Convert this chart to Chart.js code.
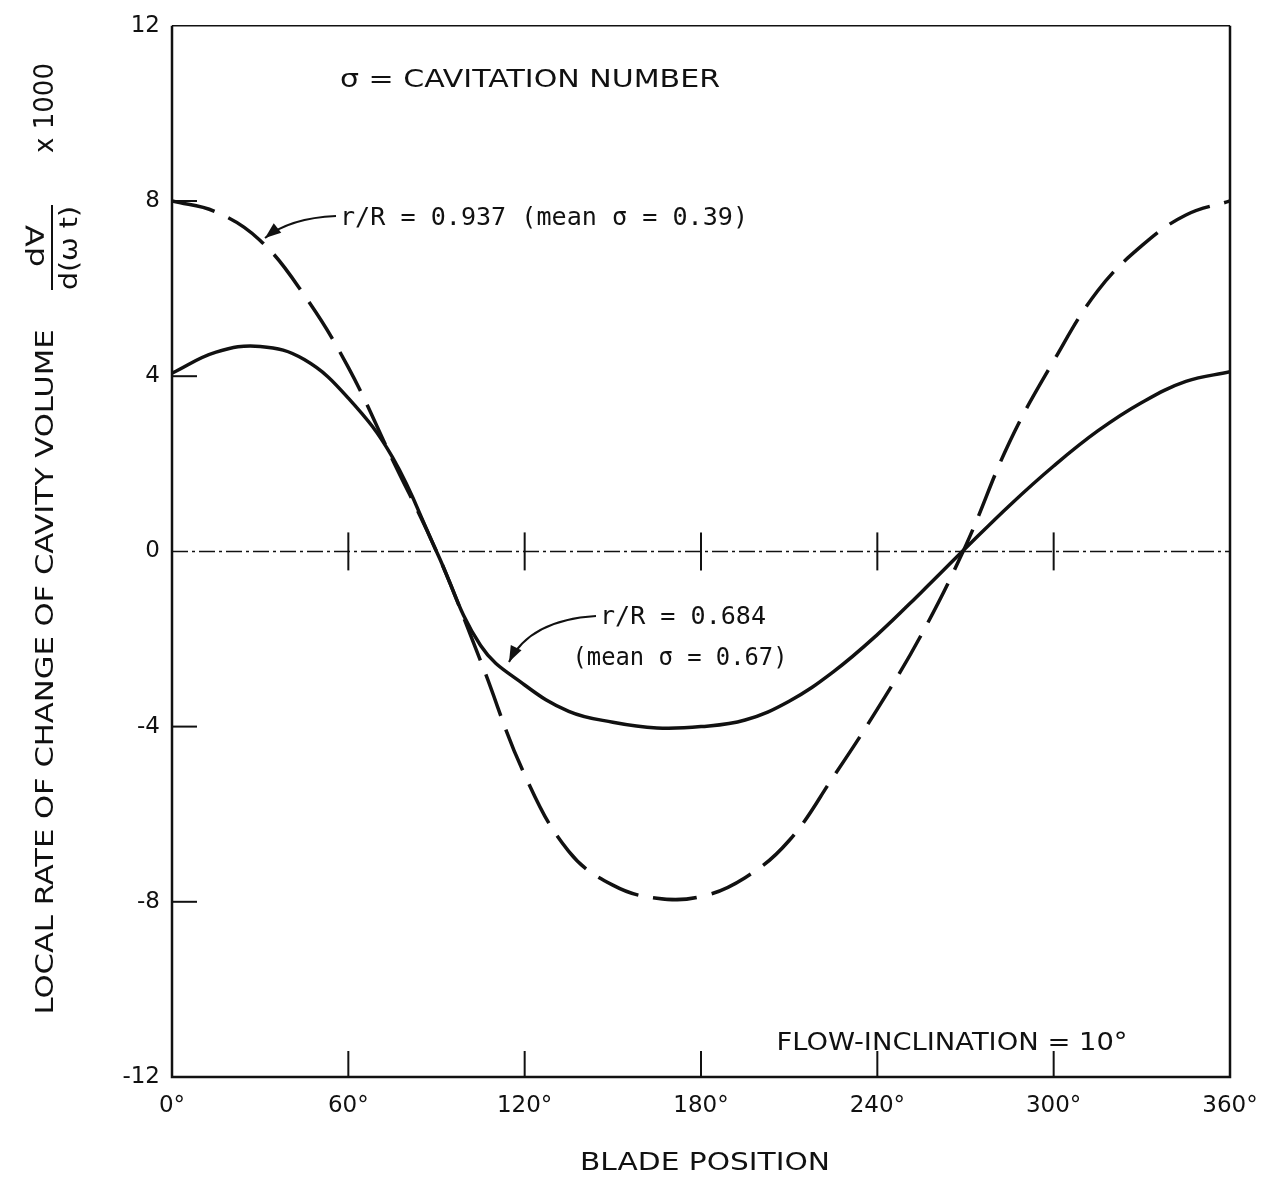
<!DOCTYPE html>
<html>
<head>
<meta charset="utf-8">
<script src="https://cdn.jsdelivr.net/npm/chart.js@4.4.1/dist/chart.umd.min.js"></script>
<style>
  html, body { margin: 0; padding: 0; background: #fff; }
  #wrap { width: 1276px; height: 1179px; }
</style>
</head>
<body>
<div id="wrap"><canvas id="grafico" width="1276" height="1179"></canvas></div>
<script>
// blade position (deg) and dV/d(wt) x 1000
const angulos = [0, 15, 30, 45, 60, 75, 90, 105, 120, 135, 150, 165, 180, 195, 210, 225, 240, 255, 270, 285, 300, 315, 330, 345, 360];
const dashedVal = [8.0, 7.75, 7.1, 5.85, 4.2, 2.1, 0, -2.5, -5.1, -6.85, -7.62, -7.92, -7.88, -7.45, -6.6, -5.15, -3.6, -1.9, 0.12, 2.5, 4.35, 5.95, 6.98, 7.68, 8.0];
const solidVal = [4.07, 4.55, 4.68, 4.38, 3.5, 2.15, 0, -2.15, -3.05, -3.65, -3.9, -4.03, -4.0, -3.85, -3.42, -2.75, -1.9, -0.93, 0.07, 1.05, 1.95, 2.75, 3.4, 3.88, 4.1];

const xTicks = [0, 60, 120, 180, 240, 300, 360];
const yTicks = [-12, -8, -4, 0, 4, 8, 12];

const INK = "#111";
const SANS = "'DejaVu Sans', 'Liberation Sans', sans-serif";
const MONO = "'DejaVu Sans Mono', 'Liberation Mono', monospace";

function puntos(xs, ys) {
    return xs.map((x, i) => ({ x: x, y: ys[i] }));
}

// texto ajustado a un ancho dado
function textoAjustado(ctx, txt, cx, cy, ancho, font, girar) {
    ctx.save();
    ctx.font = font;
    ctx.fillStyle = INK;
    ctx.translate(cx, cy);
    if (girar) ctx.rotate(-Math.PI / 2);
    const w = ctx.measureText(txt).width;
    ctx.scale(ancho / w, 1);
    ctx.textAlign = "center";
    ctx.textBaseline = "middle";
    ctx.fillText(txt, 0, 0);
    ctx.restore();
}

function flecha(ctx, x0, y0, cx, cy, x1, y1) {
    ctx.save();
    ctx.strokeStyle = INK;
    ctx.fillStyle = INK;
    ctx.lineWidth = 2;
    ctx.beginPath();
    ctx.moveTo(x0, y0);
    ctx.quadraticCurveTo(cx, cy, x1, y1);
    ctx.stroke();
    const a = Math.atan2(y1 - cy, x1 - cx);
    const L = 16, W = 6;
    ctx.beginPath();
    ctx.moveTo(x1, y1);
    ctx.lineTo(x1 - L * Math.cos(a) + W * Math.sin(a), y1 - L * Math.sin(a) - W * Math.cos(a));
    ctx.lineTo(x1 - L * Math.cos(a) - W * Math.sin(a), y1 - L * Math.sin(a) + W * Math.cos(a));
    ctx.closePath();
    ctx.fill();
    ctx.restore();
}

const marco = {
    id: "marco",
    beforeDatasetsDraw(chart) {
        const ctx = chart.ctx;
        const xs = chart.scales.x, ys = chart.scales.y;
        const L = xs.getPixelForValue(0), R = xs.getPixelForValue(360);
        const T = ys.getPixelForValue(12), B = ys.getPixelForValue(-12);
        const y0 = ys.getPixelForValue(0);
        ctx.save();
        ctx.strokeStyle = INK;

        // linea de cero
        ctx.lineWidth = 1.5;
        ctx.setLineDash([16, 4, 3, 4]);
        ctx.beginPath();
        ctx.moveTo(L, y0);
        ctx.lineTo(R, y0);
        ctx.stroke();
        ctx.setLineDash([]);

        // marco
        ctx.lineWidth = 1.5;
        ctx.beginPath();
        ctx.moveTo(L, T); ctx.lineTo(R, T);
        ctx.stroke();
        ctx.lineWidth = 2.5;
        ctx.beginPath();
        ctx.moveTo(R, T); ctx.lineTo(R, B); ctx.lineTo(L, B); ctx.lineTo(L, T);
        ctx.stroke();

        // marcas hacia dentro
        ctx.lineWidth = 2;
        yTicks.forEach(v => {
            if (v === 12 || v === -12 || v === 0) return;
            const py = ys.getPixelForValue(v);
            ctx.beginPath(); ctx.moveTo(L, py); ctx.lineTo(L + 25, py); ctx.stroke();
        });
        xTicks.forEach(v => {
            if (v === 0 || v === 360) return;
            const px = xs.getPixelForValue(v);
            ctx.beginPath(); ctx.moveTo(px, B); ctx.lineTo(px, B - 26); ctx.stroke();
            ctx.beginPath(); ctx.moveTo(px, y0 - 19); ctx.lineTo(px, y0 + 19); ctx.stroke();
        });
        ctx.restore();
    },
    afterDraw(chart) {
        const ctx = chart.ctx;
        // titulo eje y
        textoAjustado(ctx, "LOCAL RATE OF CHANGE OF CAVITY VOLUME", 46, 672, 685, "25px " + SANS, true);
        textoAjustado(ctx, "d\u2200", 37, 246, 42, "25px " + SANS, true);
        textoAjustado(ctx, "d(\u03c9 t)", 70, 248, 84, "25px " + SANS, true);
        ctx.save();
        ctx.strokeStyle = INK;
        ctx.lineWidth = 2;
        ctx.beginPath(); ctx.moveTo(52, 205); ctx.lineTo(52, 290); ctx.stroke();
        ctx.restore();
        textoAjustado(ctx, "x 1000", 46, 108, 90, "26px " + SANS, true);

        // titulo eje x
        textoAjustado(ctx, "BLADE POSITION", 705, 1163, 250, "25px " + SANS, false);

        // anotaciones
        textoAjustado(ctx, "\u03c3 = CAVITATION NUMBER", 530, 80, 380, "25px " + SANS, false);
        textoAjustado(ctx, "r/R = 0.937 (mean \u03c3 = 0.39)", 544, 218, 408, "25px " + MONO, false);
        textoAjustado(ctx, "r/R = 0.684", 683, 617, 166, "25px " + MONO, false);
        textoAjustado(ctx, "(mean \u03c3 = 0.67)", 680, 658, 215, "25px " + MONO, false);
        textoAjustado(ctx, "FLOW-INCLINATION = 10\u00b0", 952, 1043, 351, "25px " + SANS, false);

        flecha(ctx, 336, 216, 290, 218, 265, 238);
        flecha(ctx, 596, 616, 530, 620, 509, 662);
    }
};

const ctx = document.getElementById("grafico").getContext("2d");
const grafico = new Chart(ctx, {
    type: "line",
    data: {
        datasets: [
            {
                label: "r/R = 0.937",
                data: puntos(angulos, dashedVal),
                borderColor: INK,
                borderWidth: 3.5,
                borderDash: [44, 15],
                pointRadius: 0,
                tension: 0.4,
                fill: false
            },
            {
                label: "r/R = 0.684",
                data: puntos(angulos, solidVal),
                borderColor: INK,
                borderWidth: 3.5,
                pointRadius: 0,
                tension: 0.4,
                fill: false
            }
        ]
    },
    options: {
        responsive: false,
        animation: false,
        devicePixelRatio: 1,
        layout: { padding: { top: 22, right: 46, left: 0, bottom: 0 } },
        plugins: { legend: { display: false }, tooltip: { enabled: false } },
        scales: {
            x: {
                type: "linear",
                min: 0,
                max: 360,
                afterBuildTicks: s => { s.ticks = xTicks.map(v => ({ value: v })); },
                afterFit: s => { s.height = 102; },
                grid: { display: false, drawTicks: false },
                border: { display: false },
                ticks: {
                    padding: 15,
                    color: INK,
                    font: { family: "'DejaVu Sans', sans-serif", size: 23 },
                    callback: v => v + "\u00b0"
                }
            },
            y: {
                min: -12,
                max: 12,
                afterBuildTicks: s => { s.ticks = yTicks.map(v => ({ value: v })); },
                afterFit: s => { s.width = 172; },
                grid: { display: false, drawTicks: false },
                border: { display: false },
                ticks: {
                    padding: 12,
                    color: INK,
                    font: { family: "'DejaVu Sans', sans-serif", size: 23 },
                    callback: v => (v < 0 ? "-" + Math.abs(v) : "" + v)
                }
            }
        }
    },
    plugins: [marco]
});
</script>
</body>
</html>
